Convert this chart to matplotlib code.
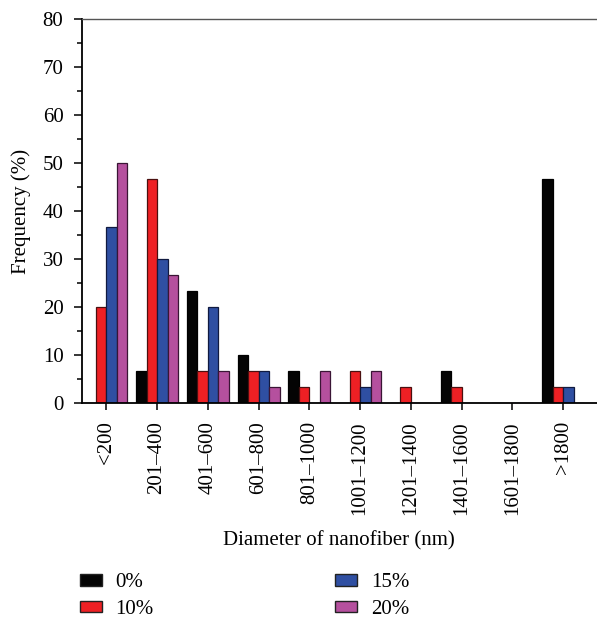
import matplotlib
matplotlib.use("Agg")
import matplotlib.pyplot as plt
import numpy as np
from matplotlib.patches import Patch
from matplotlib.ticker import MultipleLocator

categories = ["<200", "201\u2013400", "401\u2013600", "601\u2013800", "801\u20131000",
              "1001\u20131200", "1201\u20131400", "1401\u20131600", "1601\u20131800", ">1800"]
series_names = ["0%", "10%", "15%", "20%"]
v0 = [0, 6.7, 23.3, 10, 6.7, 0, 0, 6.7, 0, 46.7]
v10 = [20, 46.7, 6.7, 6.7, 3.3, 6.7, 3.3, 3.3, 0, 3.3]
v15 = [36.7, 30, 20, 6.7, 0, 3.3, 0, 0, 0, 3.3]
v20 = [50, 26.7, 6.7, 3.3, 6.7, 6.7, 0, 0, 0, 0]
yticks = [0, 10, 20, 30, 40, 50, 60, 70, 80]

colors = ["#040404", "#ee2024", "#2f4fa2", "#b5509e"]
edges = ["#000000", "#4a1010", "#101a40", "#3a1535"]

plt.rcParams['font.family'] = ['Liberation Serif', 'DejaVu Serif']
FS = 15

fig = plt.figure(figsize=(5.97, 6.18), dpi=100)
ax = fig.add_axes([81.5/597, 1-403/618, (597-81.5)/597, 384/618])

x = np.arange(len(categories))
w = 0.207
for i, vals in enumerate([v0, v10, v15, v20]):
    ax.bar(x + (i - 1.5) * w, vals, width=w, color=colors[i], edgecolor=edges[i], linewidth=0.9)

ax.set_xlim(-0.49, 9.67)
ax.set_ylim(0, 80)
ax.set_yticks(yticks)
ax.yaxis.set_minor_locator(MultipleLocator(5))
ax.set_xticks(x)
ax.set_xticklabels(categories, rotation=90, fontsize=FS)
ax.tick_params(axis='y', which='major', labelsize=FS, direction='out', length=6, width=1.1, pad=7)
ax.tick_params(axis='y', which='minor', direction='out', length=3.5, width=1.1)
ax.tick_params(axis='x', direction='out', length=5, width=1.1, pad=8)
ax.spines['right'].set_visible(False)
ax.spines['top'].set_color('#555555')
ax.spines['top'].set_linewidth(1.0)
for s in ['left', 'bottom']:
    ax.spines[s].set_linewidth(1.3)
ax.set_ylabel("Frequency (%)", fontsize=FS, labelpad=8)
ax.set_xlabel("Diameter of nanofiber (nm)", fontsize=FS, labelpad=12)

handles = [Patch(facecolor=colors[i], edgecolor='#222222', linewidth=1, label=series_names[i]) for i in range(4)]
fig.legend(handles=handles, ncol=2, loc='upper left', bbox_to_anchor=(80/597, 1-573/618),
           frameon=False, fontsize=FS, columnspacing=8.7, handlelength=1.06, handleheight=0.5,
           labelspacing=0.38, handletextpad=0.65, borderpad=0, borderaxespad=0)

fig.savefig("out.png", dpi=100)
